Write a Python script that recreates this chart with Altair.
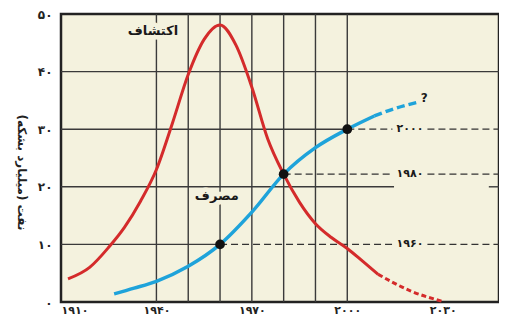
import altair as alt
import pandas as pd

# ---- data ----
red_years = [1912.2, 1919, 1925, 1930, 1935, 1940, 1945, 1950, 1955, 1960,
             1965, 1970, 1975, 1980, 1985, 1990, 1995, 2000, 2005, 2009.7]
red_vals = [4.0, 6.0, 9.5, 13.0, 17.5, 23.0, 31.0, 39.5, 45.6, 48.1,
            44.6, 37.3, 28.3, 22.2, 17.3, 13.6, 11.2, 9.3, 7.0, 4.8]
red_future_years = [2009.7, 2020, 2030]
red_future_vals = [4.8, 1.9, 0.1]

blue_years = [1926.7, 1933, 1940, 1950, 1960, 1970, 1980, 1990, 2000, 2008.5]
blue_vals = [1.4, 2.4, 3.6, 6.2, 10, 15.6, 22.2, 26.8, 30, 32.3]
blue_future_years = [2008.5, 2015, 2022.3]
blue_future_vals = [32.3, 33.6, 34.7]

marker_years = [1960, 1980, 2000]
marker_vals = [10, 22.2, 30]
marker_labels = ["۱۹۶۰", "۱۹۸۰", "۲۰۰۰"]

x_ticks = [1910, 1940, 1970, 2000, 2030]
x_tick_labels = ["۱۹۱۰", "۱۹۴۰", "۱۹۷۰", "۲۰۰۰", "۲۰۳۰"]
y_ticks = [0, 10, 20, 30, 40, 50]
y_tick_labels = ["۰", "۱۰", "۲۰", "۳۰", "۴۰", "۵۰"]

grid_years = [1940, 1950, 1960, 1970, 1980, 1990, 2000]
hgrid_y = [40, 30, 20, 20, 10]
hgrid_x1 = [1910, 1910, 1910, 2044.5, 1910]
hgrid_x2 = [2047.7, 2000, 2014.7, 2047.7, 1960]

label_year = 2019.7
label_gap = 5.5

annot_text = ["اکتشاف", "مصرف", "?"]
annot_x = [1938.9, 1959.0, 2024.2]
annot_y = [47.1, 18.4, 35.4]

X_DOMAIN = [1910, 2047.7]
Y_DOMAIN = [0, 50]
FONT = "DejaVu Sans"
BG = "#f4f2de"
RED = "#d42b2b"
BLUE = "#1ea3da"
GRID = "#3a3a3a"


def label_expr(vals, labels):
    parts = [f"datum.value == {v} ? '{l}'" for v, l in zip(vals, labels)]
    return " : ".join(parts) + " : ''"


xs = alt.Scale(domain=X_DOMAIN, nice=False, zero=False)
ys = alt.Scale(domain=Y_DOMAIN, nice=False)

x_axis = alt.Axis(values=x_ticks, labelExpr=label_expr(x_ticks, x_tick_labels), grid=False,
                  ticks=False, domain=False, labelFont=FONT, labelFontSize=11,
                  labelFontWeight="bold", labelColor="#222", labelPadding=2, title=None)
y_axis = alt.Axis(values=y_ticks, labelExpr=label_expr(y_ticks, y_tick_labels), grid=False,
                  ticks=False, domain=False, labelFont=FONT, labelFontSize=12,
                  labelFontWeight="bold", labelColor="#222", labelPadding=9,
                  title="نفت (میلیارد بشکه)", titleFont=FONT, titleFontSize=12,
                  titleFontWeight="bold", titleColor="#222", titleX=-40, titleY=158,
                  titleAngle=90, titleBaseline="middle", titleAlign="center")

# vertical grid
vgrid_df = pd.DataFrame({"x": grid_years, "y1": [Y_DOMAIN[0]] * len(grid_years),
                         "y2": [Y_DOMAIN[1]] * len(grid_years)})
vgrid = alt.Chart(vgrid_df).mark_rule(color=GRID, strokeWidth=1.4).encode(
    x=alt.X("x:Q", scale=xs, axis=x_axis), y=alt.Y("y1:Q", scale=ys, axis=y_axis), y2="y2:Q")

hgrid_df = pd.DataFrame({"y": hgrid_y, "x1": hgrid_x1, "x2": hgrid_x2})
hgrid = alt.Chart(hgrid_df).mark_rule(color=GRID, strokeWidth=1.4).encode(
    x=alt.X("x1:Q", scale=xs), x2="x2:Q", y=alt.Y("y:Q", scale=ys))

# dashed reference lines (broken around the year labels)
ref_rows = []
for yr, v in zip(marker_years, marker_vals):
    ref_rows.append({"x1": yr, "x2": label_year - label_gap, "y": v})
    ref_rows.append({"x1": label_year + label_gap, "x2": X_DOMAIN[1], "y": v})
ref_df = pd.DataFrame(ref_rows)
refs = alt.Chart(ref_df).mark_rule(color="#333", strokeWidth=1.3, strokeDash=[7, 4]).encode(
    x=alt.X("x1:Q", scale=xs), x2="x2:Q", y=alt.Y("y:Q", scale=ys))

annot_df = pd.DataFrame({"t": annot_text, "x": annot_x, "y": annot_y})
year_lab_df = pd.DataFrame({"t": marker_labels, "x": [label_year] * 3, "y": marker_vals})


def texts(df, size, halo):
    base = alt.Chart(df).encode(x=alt.X("x:Q", scale=xs), y=alt.Y("y:Q", scale=ys), text="t:N")
    layers = []
    if halo:
        layers.append(base.mark_text(font=FONT, fontSize=size, fontWeight="bold", color=BG,
                                     stroke=BG, strokeWidth=9, strokeJoin="round",
                                     align="center", baseline="middle"))
    layers.append(base.mark_text(font=FONT, fontSize=size, fontWeight="bold", color="#1a1a1a",
                                 align="center", baseline="middle"))
    return layers


red_df = pd.DataFrame({"x": red_years, "y": red_vals})
red_f_df = pd.DataFrame({"x": red_future_years, "y": red_future_vals})
blue_df = pd.DataFrame({"x": blue_years, "y": blue_vals})
blue_f_df = pd.DataFrame({"x": blue_future_years, "y": blue_future_vals})


def line(df, color, width, dash=None):
    kw = dict(color=color, strokeWidth=width, interpolate="monotone", strokeCap="butt")
    if dash:
        kw["strokeDash"] = dash
    return alt.Chart(df).mark_line(**kw).encode(
        x=alt.X("x:Q", scale=xs), y=alt.Y("y:Q", scale=ys))


red_line = line(red_df, RED, 3)
red_future = line(red_f_df, RED, 3, [5, 3])
blue_line = line(blue_df, BLUE, 3.5)
blue_future = line(blue_f_df, BLUE, 3.5, [8, 4])

pts_df = pd.DataFrame({"x": marker_years, "y": marker_vals})
pts = alt.Chart(pts_df).mark_circle(color="#111", opacity=1, size=95).encode(
    x=alt.X("x:Q", scale=xs), y=alt.Y("y:Q", scale=ys))

layers = [vgrid, hgrid, refs] + texts(annot_df.iloc[:2], 13, True) + texts(year_lab_df, 11, True) \
    + [red_line, red_future, blue_line, blue_future, pts] + texts(annot_df.iloc[2:], 12, False)

chart = alt.layer(*layers).properties(
    width=438, height=288,
    autosize=alt.AutoSizeParams(type="none"),
    padding={"left": 53, "top": 6, "right": 0, "bottom": 14},
    background="white",
).configure_view(fill=BG, stroke="#222", strokeWidth=2.5)

chart.save("out.html", embed_options={"renderer": "svg", "actions": False})
